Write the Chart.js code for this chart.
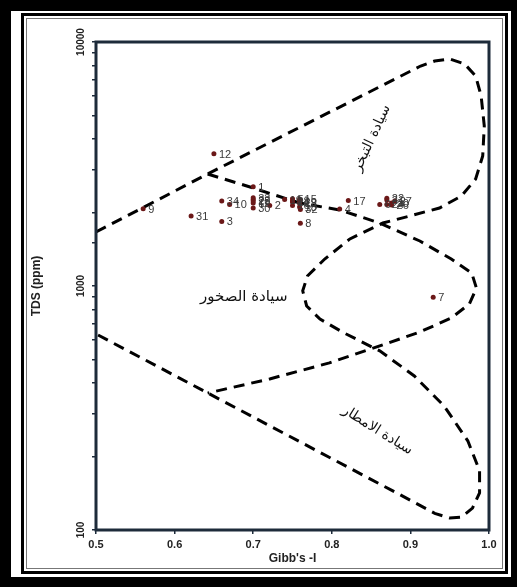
<!DOCTYPE html>
<html>
<head>
<meta charset="utf-8">
<script src="https://cdn.jsdelivr.net/npm/chart.js@4"></script>
<style>
  html, body { margin: 0; padding: 0; }
  body { width: 517px; height: 587px; background: #000; position: relative; overflow: hidden; }
  .sheet { position: absolute; left: 11px; top: 11px; width: 500px; height: 566px; background: #fff; }
  .rule { position: absolute; box-sizing: border-box; }
  .rule.outer { left: 21px; top: 13px; width: 487px; height: 561px; border: 3px solid #000; }
  .rule.inner { left: 26px; top: 18px; width: 477px; height: 551px; border: 1px solid #777; }
  canvas { position: absolute; left: 0; top: 0; }
</style>
</head>
<body>
<div class="sheet"></div>
<div class="rule outer"></div>
<div class="rule inner"></div>
<canvas id="gibbsChart" width="517" height="587"></canvas>
<script>
// sample points (Gibbs ratio vs TDS)
const stationIds = ["1","2","3","4","5","6","7","8","9","10","11","12","13","14","15","16","17",
  "18","19","20","21","22","23","24","25","26","27","28","29","30","31","32","33","34"];
const gibbsRatio = [0.700, 0.721, 0.660, 0.810, 0.750, 0.861, 0.929, 0.760, 0.560, 0.670, 0.700, 0.650,
  0.759, 0.750, 0.759, 0.750, 0.821, 0.759, 0.740, 0.876, 0.870, 0.870, 0.700, 0.870, 0.700, 0.876,
  0.880, 0.750, 0.759, 0.700, 0.621, 0.760, 0.700, 0.660];
const tdsPpm = [2550, 2140, 1840, 2070, 2280, 2160, 900, 1810, 2075, 2160, 2190, 3480,
  2180, 2210, 2270, 2140, 2240, 2110, 2260, 2190, 2250, 2290, 2260, 2160, 2230, 2150,
  2230, 2230, 2220, 2090, 1935, 2060, 2300, 2230];

// boomerang boundary: upper edge, evaporation loop, inner curve, lower edge
const outerRatio = [0.500, 0.642, 0.913, 0.931, 0.950, 0.969, 0.983, 0.990, 0.994, 0.992, 0.983, 0.965,
  0.937, 0.899, 0.865, 0.823, 0.791, 0.769, 0.763, 0.768, 0.785, 0.816, 0.861, 0.905, 0.943, 0.973,
  0.988, 0.988, 0.979, 0.965, 0.950, 0.931, 0.877, 0.500];
const outerTds = [1665, 2877, 7972, 8358, 8519, 8127, 7254, 6008, 4525, 3410, 2745, 2338,
  2088, 1935, 1812, 1559, 1290, 1099, 955, 828, 732, 641, 542, 428, 322, 232,
  175, 142, 123, 113, 112, 117, 145, 636];

// rock-dominance loop branching off the upper edge
const innerRatio = [0.642, 0.696, 0.759, 0.810, 0.861, 0.912, 0.952, 0.978, 0.984, 0.975, 0.952,
  0.912, 0.861, 0.797, 0.721, 0.664, 0.642];
const innerTds = [2877, 2545, 2188, 2049, 1812, 1529, 1290, 1131, 981, 844, 739,
  648, 568, 484, 416, 378, 364];

const xTicks = [0.5, 0.6, 0.7, 0.8, 0.9, 1.0];
const yTickLabels = [100, 1000, 10000];
const regionNames = ["سيادة التبخر", "سيادة الصخور", "سيادة الامطار"];

const frameColor = "#1d2b3a";

const gibbsDecor = {
  id: "gibbsDecor",
  afterDatasetsDraw(chart) {
    const { ctx, chartArea: a, scales: { x, y } } = chart;
    ctx.save();

    // station numbers
    ctx.font = '11px "Liberation Sans", Arial, sans-serif';
    ctx.fillStyle = "#3a3a3a";
    ctx.textBaseline = "middle";
    ctx.textAlign = "left";
    stationIds.forEach((id, i) => {
      ctx.fillText(id, x.getPixelForValue(gibbsRatio[i]) + 5, y.getPixelForValue(tdsPpm[i]) + 1);
    });

    // region names
    ctx.fillStyle = "#111";
    ctx.textAlign = "center";
    const put = (txt, vx, vy, deg, size) => {
      ctx.save();
      ctx.translate(x.getPixelForValue(vx), y.getPixelForValue(vy));
      ctx.rotate(deg * Math.PI / 180);
      ctx.font = size + 'px "DejaVu Sans", sans-serif';
      ctx.fillText(txt, 0, 0);
      ctx.restore();
    };
    put(regionNames[0], 0.851, 4036, -65, 14);
    put(regionNames[1], 0.688, 899, 0, 15);
    put(regionNames[2], 0.858, 256, 32, 14);

    // plot frame
    ctx.strokeStyle = frameColor;
    ctx.lineWidth = 3;
    ctx.strokeRect(a.left, a.top, a.right - a.left, a.bottom - a.top);

    // rotated y tick labels
    ctx.fillStyle = "#222";
    ctx.font = 'bold 10px "Liberation Sans", Arial, sans-serif';
    ctx.textAlign = "center";
    yTickLabels.forEach(v => {
      ctx.save();
      ctx.translate(a.left - 15, y.getPixelForValue(v));
      ctx.rotate(-Math.PI / 2);
      ctx.fillText(String(v), 0, 0);
      ctx.restore();
    });
    ctx.restore();
  }
};

const dashed = {
  showLine: true,
  pointRadius: 0,
  borderColor: "#000",
  borderWidth: 3,
  borderDash: [11, 7],
  tension: 0,
  fill: false
};

new Chart(document.getElementById("gibbsChart"), {
  type: "scatter",
  data: {
    datasets: [
      {
        label: "Samples",
        data: gibbsRatio.map((v, i) => ({ x: v, y: tdsPpm[i] })),
        pointRadius: 2.5,
        pointBackgroundColor: "#6b1818",
        pointBorderWidth: 0
      },
      { ...dashed, label: "Boundary", data: outerRatio.map((v, i) => ({ x: v, y: outerTds[i] })) },
      { ...dashed, label: "Rock loop", data: innerRatio.map((v, i) => ({ x: v, y: innerTds[i] })) }
    ]
  },
  options: {
    responsive: false,
    animation: false,
    layout: { padding: { left: 20, top: 42, right: 28, bottom: 17 } },
    plugins: { legend: { display: false }, tooltip: { enabled: false } },
    scales: {
      x: {
        type: "linear",
        min: 0.5,
        max: 1.0,
        afterFit: s => { s.height = 40; },
        afterBuildTicks: s => { s.ticks = xTicks.map(v => ({ value: v })); },
        grid: { drawOnChartArea: false, drawTicks: true, tickLength: 4, color: frameColor, lineWidth: 1.5 },
        border: { display: false },
        ticks: {
          padding: 4,
          color: "#222",
          font: { family: '"Liberation Sans", Arial, sans-serif', size: 11, weight: "bold" },
          callback: v => Number(v).toFixed(1)
        },
        title: {
          display: true,
          text: "Gibb's -I",
          color: "#222",
          padding: { top: 0, bottom: 4 },
          font: { family: '"Liberation Sans", Arial, sans-serif', size: 12, weight: "bold" }
        }
      },
      y: {
        type: "logarithmic",
        min: 100,
        max: 10000,
        afterFit: s => { s.width = 76; },
        grid: { drawOnChartArea: false, drawTicks: true, tickLength: 4, color: frameColor, lineWidth: 1.5 },
        border: { display: false },
        ticks: { display: false },
        title: {
          display: true,
          text: "TDS (ppm)",
          color: "#222",
          padding: { top: 9, bottom: 0 },
          font: { family: '"Liberation Sans", Arial, sans-serif', size: 12, weight: "bold" }
        }
      }
    }
  },
  plugins: [gibbsDecor]
});
</script>
</body>
</html>
